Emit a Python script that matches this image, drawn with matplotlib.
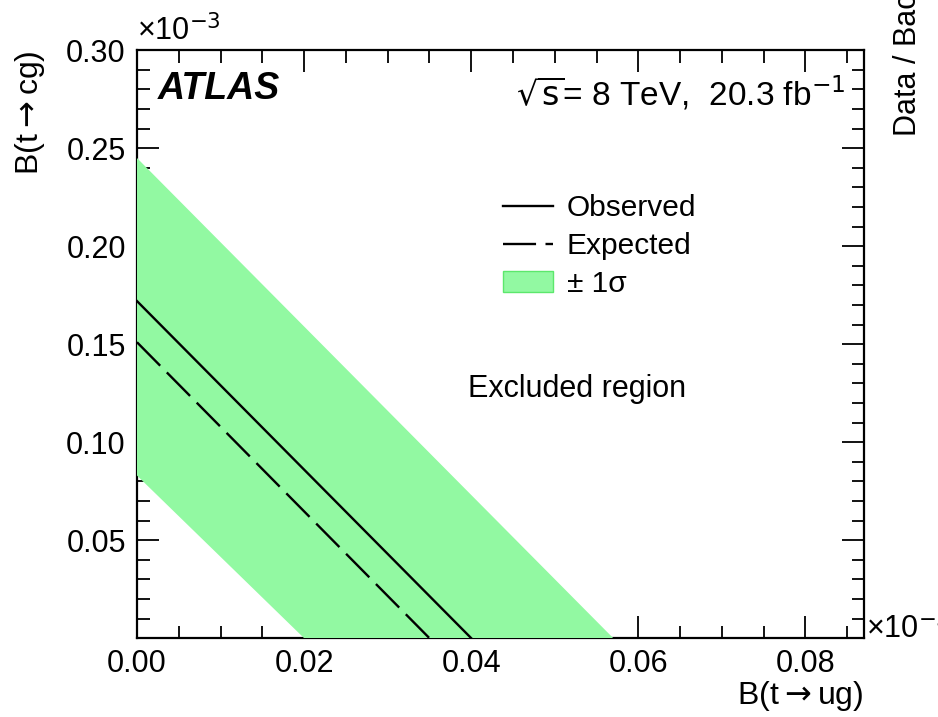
import matplotlib
matplotlib.use("Agg")
import matplotlib.pyplot as plt
from matplotlib.lines import Line2D
from matplotlib.patches import Patch
from matplotlib.ticker import MultipleLocator

# limits in units of 1e-3: (B(t->ug) intercept, B(t->cg) intercept)
observed = [0.040, 0.172]
expected = [0.035, 0.151]
band_up = [0.057, 0.245]
band_down = [0.020, 0.083]

green = "#92f9a2"

plt.rcParams["font.family"] = ["Liberation Sans", "DejaVu Sans"]

fig = plt.figure(figsize=(9.38, 7.17), dpi=100)
ax = fig.add_axes([0.146, 0.110, 0.775, 0.820])

# band: polygon between upper and lower limit lines
bx = [0, band_up[0], band_down[0], 0]
by = [band_up[1], 0, 0, band_down[1]]
ax.fill(bx, by, color=green, lw=0, zorder=3)

ax.plot([0, observed[0]], [observed[1], 0], color="black", lw=1.7, zorder=4)
ax.plot([0, expected[0]], [expected[1], 0], color="black", lw=1.7,
        dashes=(14, 4), zorder=4)

ax.set_xlim(0, 0.087)
ax.set_ylim(0, 0.30)
ax.xaxis.set_major_locator(MultipleLocator(0.02))
ax.xaxis.set_minor_locator(MultipleLocator(0.005))
ax.yaxis.set_major_locator(MultipleLocator(0.05))
ax.yaxis.set_minor_locator(MultipleLocator(0.01))
ax.xaxis.set_major_formatter(plt.FormatStrFormatter("%.2f"))
ax.yaxis.set_major_formatter(plt.FormatStrFormatter("%.2f"))
ax.set_yticks([0.05, 0.10, 0.15, 0.20, 0.25, 0.30])

ax.tick_params(which="both", direction="in", top=True, right=True,
               labelsize=22, width=1.3, pad=8)
ax.tick_params(which="major", length=16)
ax.tick_params(which="minor", length=9)
for s in ax.spines.values():
    s.set_linewidth(1.6)

ax.set_xlabel(r"B(t$\rightarrow$ug)", fontsize=23, loc="right", labelpad=0)
ax.set_ylabel(r"B(t$\rightarrow$cg)", fontsize=23, loc="top", labelpad=14)

ax.text(0.0, 1.005, "×10$^{-3}$", transform=ax.transAxes, fontsize=22,
        ha="left", va="bottom")
ax.text(1.003, 0.015, "×10$^{-3}$", transform=ax.transAxes, fontsize=22,
        ha="left", va="center")

ax.text(0.028, 0.965, "ATLAS", transform=ax.transAxes, fontsize=27,
        fontweight="bold", fontstyle="italic", va="top")
ax.text(0.975, 0.96, r"$\sqrt{\mathrm{s}}$= 8 TeV,  20.3 fb$^{-1}$",
        transform=ax.transAxes, fontsize=24, ha="right", va="top")
ax.text(0.455, 0.41, "Excluded region", transform=ax.transAxes, fontsize=22)

handles = [
    Line2D([], [], color="black", lw=1.7),
    Line2D([], [], color="black", lw=1.7, dashes=(14, 4)),
    Patch(facecolor=green, edgecolor="#5ce86c", lw=1),
]
ax.legend(handles, ["Observed", "Expected", "± 1σ"], loc="upper left",
          bbox_to_anchor=(0.503, 0.755), frameon=False, fontsize=21.5,
          handlelength=1.7, handletextpad=0.45, labelspacing=0.33,
          borderpad=0, borderaxespad=0)

# cropped neighbouring panel label
fig.text(0.968, 0.81, "Data / Background", rotation=90, fontsize=22,
         ha="center", va="bottom")

fig.savefig("out.png", dpi=100)
